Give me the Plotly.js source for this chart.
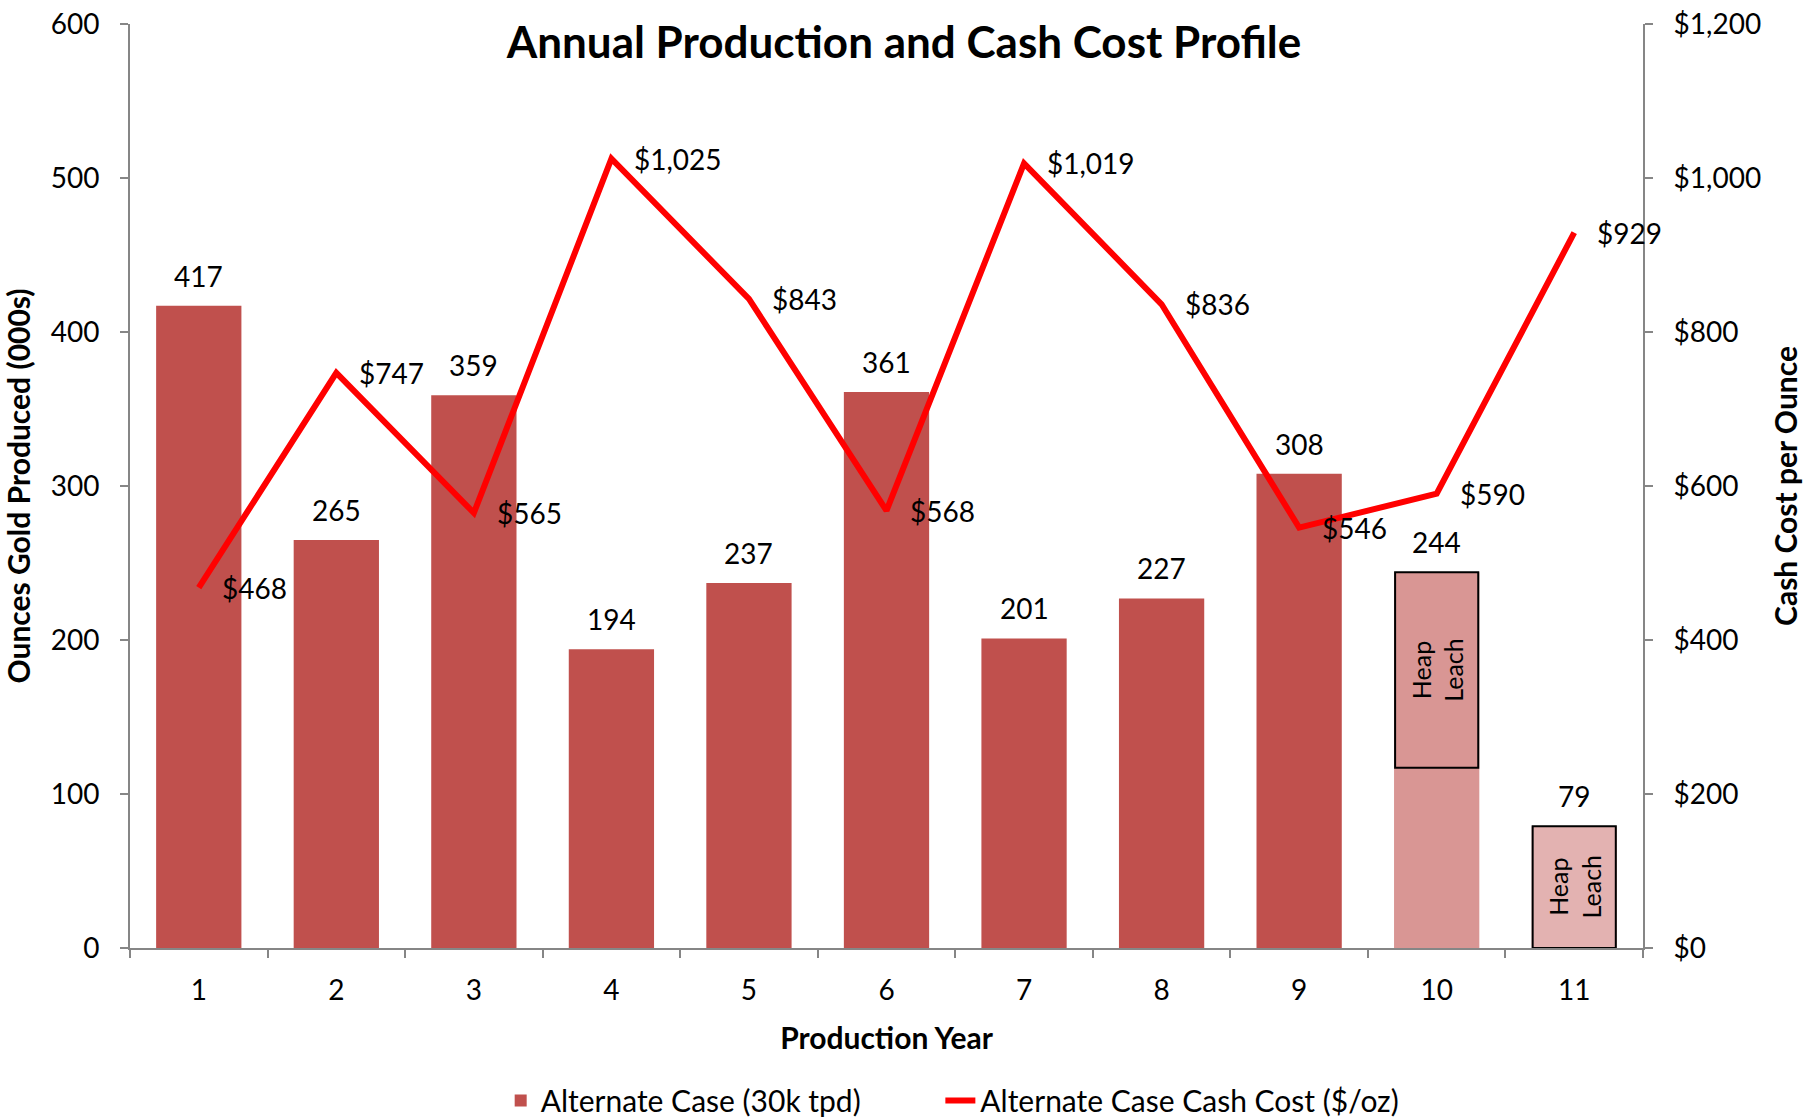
<!DOCTYPE html>
<html>
<head>
<meta charset="utf-8">
<script src="https://cdn.plot.ly/plotly-3.0.1.min.js"></script>
<style>
  html, body { margin: 0; padding: 0; background: #ffffff; }
  #chart { width: 1808px; height: 1117px; }
</style>
</head>
<body>
<div id="chart"></div>
<script>
// ---------------- DATA ----------------
const years = ['1', '2', '3', '4', '5', '6', '7', '8', '9', '10', '11'];
const ouncesProduced = [417, 265, 359, 194, 237, 361, 201, 227, 308, 244, 79];
const cashCost = [468, 747, 565, 1025, 843, 568, 1019, 836, 546, 590, 929];
// Heap leach portion (bottom and top, in 000s oz) per year; null where none
const heapLeachBottom = [null, null, null, null, null, null, null, null, null, 117, 0];
const heapLeachTop = [null, null, null, null, null, null, null, null, null, 244, 79];
const heapLeachLabel = 'Heap<br>Leach';
const leftTicks = [0, 100, 200, 300, 400, 500, 600];
const rightTicks = [0, 200, 400, 600, 800, 1000, 1200];

// ---------------- STYLE ----------------
const MAIN_COLOR = '#C0504D';
const HEAP_COLOR_A = '#D99694';
const HEAP_COLOR_B = '#E3B2B1';
const LINE_COLOR = '#FF0000';
const AXIS_COLOR = '#868686';
const FONT = 'Lato, "Open Sans", sans-serif';

const barColors = ouncesProduced.map((v, i) => {
  if (heapLeachBottom[i] === null) return MAIN_COLOR;
  return heapLeachBottom[i] > 0 ? HEAP_COLOR_A : HEAP_COLOR_B;
});

const heapX = [], heapIdx = [], heapBase = [], heapHeight = [];
years.forEach((y, i) => {
  if (heapLeachBottom[i] !== null) {
    heapX.push(y);
    heapIdx.push(i);
    heapBase.push(heapLeachBottom[i]);
    heapHeight.push(heapLeachTop[i] - heapLeachBottom[i]);
  }
});

const BAR_W = 0.62;

const traces = [
  {
    type: 'bar',
    name: 'Alternate Case (30k tpd)',
    x: years,
    y: ouncesProduced,
    width: BAR_W,
    marker: { color: barColors, line: { width: 0 } },
    legend: 'legend',
    hoverinfo: 'x+y'
  },
  {
    type: 'bar',
    name: 'Heap Leach',
    x: heapX,
    y: heapHeight,
    base: heapBase,
    width: BAR_W * 0.975,
    marker: { color: 'rgba(0,0,0,0)', line: { color: '#000000', width: 2 } },
    showlegend: false,
    hoverinfo: 'skip'
  },
  {
    type: 'scatter',
    mode: 'lines',
    name: 'Alternate Case Cash Cost ($/oz)',
    x: years,
    y: cashCost,
    yaxis: 'y2',
    legend: 'legend2',
    line: { color: LINE_COLOR, width: 6 }
  }
];

const annotations = [];
// Bar value labels (x given as category index)
years.forEach((y, i) => {
  annotations.push({
    x: i, y: ouncesProduced[i], xref: 'x', yref: 'y',
    text: String(ouncesProduced[i]),
    showarrow: false, yanchor: 'middle', xanchor: 'center', yshift: 30,
    font: { family: FONT, size: 28, color: '#000000' }
  });
});
// Line value labels
years.forEach((y, i) => {
  annotations.push({
    x: i, y: cashCost[i], xref: 'x', yref: 'y2',
    text: '$' + cashCost[i].toLocaleString('en-US'),
    showarrow: false, yanchor: 'middle', xanchor: 'left', xshift: 21,
    font: { family: FONT, size: 28, color: '#000000' }
  });
});
// Heap leach labels
heapIdx.forEach((idx, k) => {
  annotations.push({
    x: idx, y: heapBase[k] + heapHeight[k] / 2, xref: 'x', yref: 'y',
    text: heapLeachLabel, textangle: -90,
    showarrow: false, yanchor: 'middle', xanchor: 'center',
    font: { family: FONT, size: 25, color: '#000000' }
  });
});
// Page number (partially cut off at bottom)
annotations.push({
  x: 1.0535, y: -0.215, xref: 'paper', yref: 'paper',
  text: '22', showarrow: false, xanchor: 'center', yanchor: 'middle',
  font: { family: FONT, size: 28, color: '#8c8c8c' }
});

const legendBase = {
  orientation: 'h',
  y: -0.137, yanchor: 'top',
  xanchor: 'left',
  font: { family: FONT, size: 30, color: '#000000' },
  bgcolor: 'rgba(0,0,0,0)'
};

const layout = {
  width: 1808,
  height: 1117,
  margin: { l: 130, r: 165, t: 24, b: 169, pad: 0, autoexpand: false },
  paper_bgcolor: '#ffffff',
  plot_bgcolor: '#ffffff',
  barmode: 'overlay',
  font: { family: FONT, size: 28, color: '#000000' },
  title: {
    text: '<b>Annual Production and Cash Cost Profile</b>',
    x: 0.5, xref: 'container', xanchor: 'center',
    y: 1 - 43 / 1117, yref: 'container', yanchor: 'middle',
    font: { family: FONT, size: 44, color: '#000000' }
  },
  xaxis: {
    type: 'category',
    categoryorder: 'array',
    categoryarray: years,
    range: [-0.5, years.length - 0.5],
    autorange: false,
    showgrid: false,
    zeroline: false,
    showline: true,
    linecolor: AXIS_COLOR,
    linewidth: 2,
    ticks: 'outside',
    tickson: 'boundaries',
    ticklen: 8,
    tickwidth: 2,
    tickcolor: AXIS_COLOR,
    ticklabelstandoff: 16,
    tickfont: { family: FONT, size: 28, color: '#000000' },
    title: {
      text: '<b>Production Year</b>',
      font: { family: FONT, size: 30, color: '#000000' }
    }
  },
  yaxis: {
    range: [0, 600],
    autorange: false,
    automargin: true,
    tickvals: leftTicks,
    ticktext: leftTicks.map(String),
    showgrid: false,
    zeroline: false,
    showline: true,
    linecolor: AXIS_COLOR,
    linewidth: 2,
    ticks: 'outside',
    ticklen: 8,
    tickwidth: 2,
    tickcolor: AXIS_COLOR,
    ticklabelstandoff: 15,
    tickfont: { family: FONT, size: 28, color: '#000000' },
    title: {
      text: '<b>Ounces Gold Produced (000s)</b>',
      standoff: 16,
      font: { family: FONT, size: 30, color: '#000000' }
    }
  },
  yaxis2: {
    overlaying: 'y',
    side: 'right',
    range: [0, 1200],
    autorange: false,
    automargin: true,
    tickvals: rightTicks,
    ticktext: rightTicks.map(v => '$' + v.toLocaleString('en-US')),
    showgrid: false,
    zeroline: false,
    showline: true,
    linecolor: AXIS_COLOR,
    linewidth: 2,
    ticks: 'outside',
    ticklen: 8,
    tickwidth: 2,
    tickcolor: AXIS_COLOR,
    ticklabelstandoff: 15,
    tickfont: { family: FONT, size: 28, color: '#000000' },
    title: {
      text: '<b>Cash Cost per Ounce</b>',
      standoff: 16,
      font: { family: FONT, size: 30, color: '#000000' }
    }
  },
  showlegend: true,
  legend: Object.assign({}, legendBase, { x: 0.245 }),
  legend2: Object.assign({}, legendBase, { x: 0.5356 }),
  annotations: annotations
};

Plotly.newPlot('chart', traces, layout, { displayModeBar: false, staticPlot: true });
</script>
</body>
</html>
